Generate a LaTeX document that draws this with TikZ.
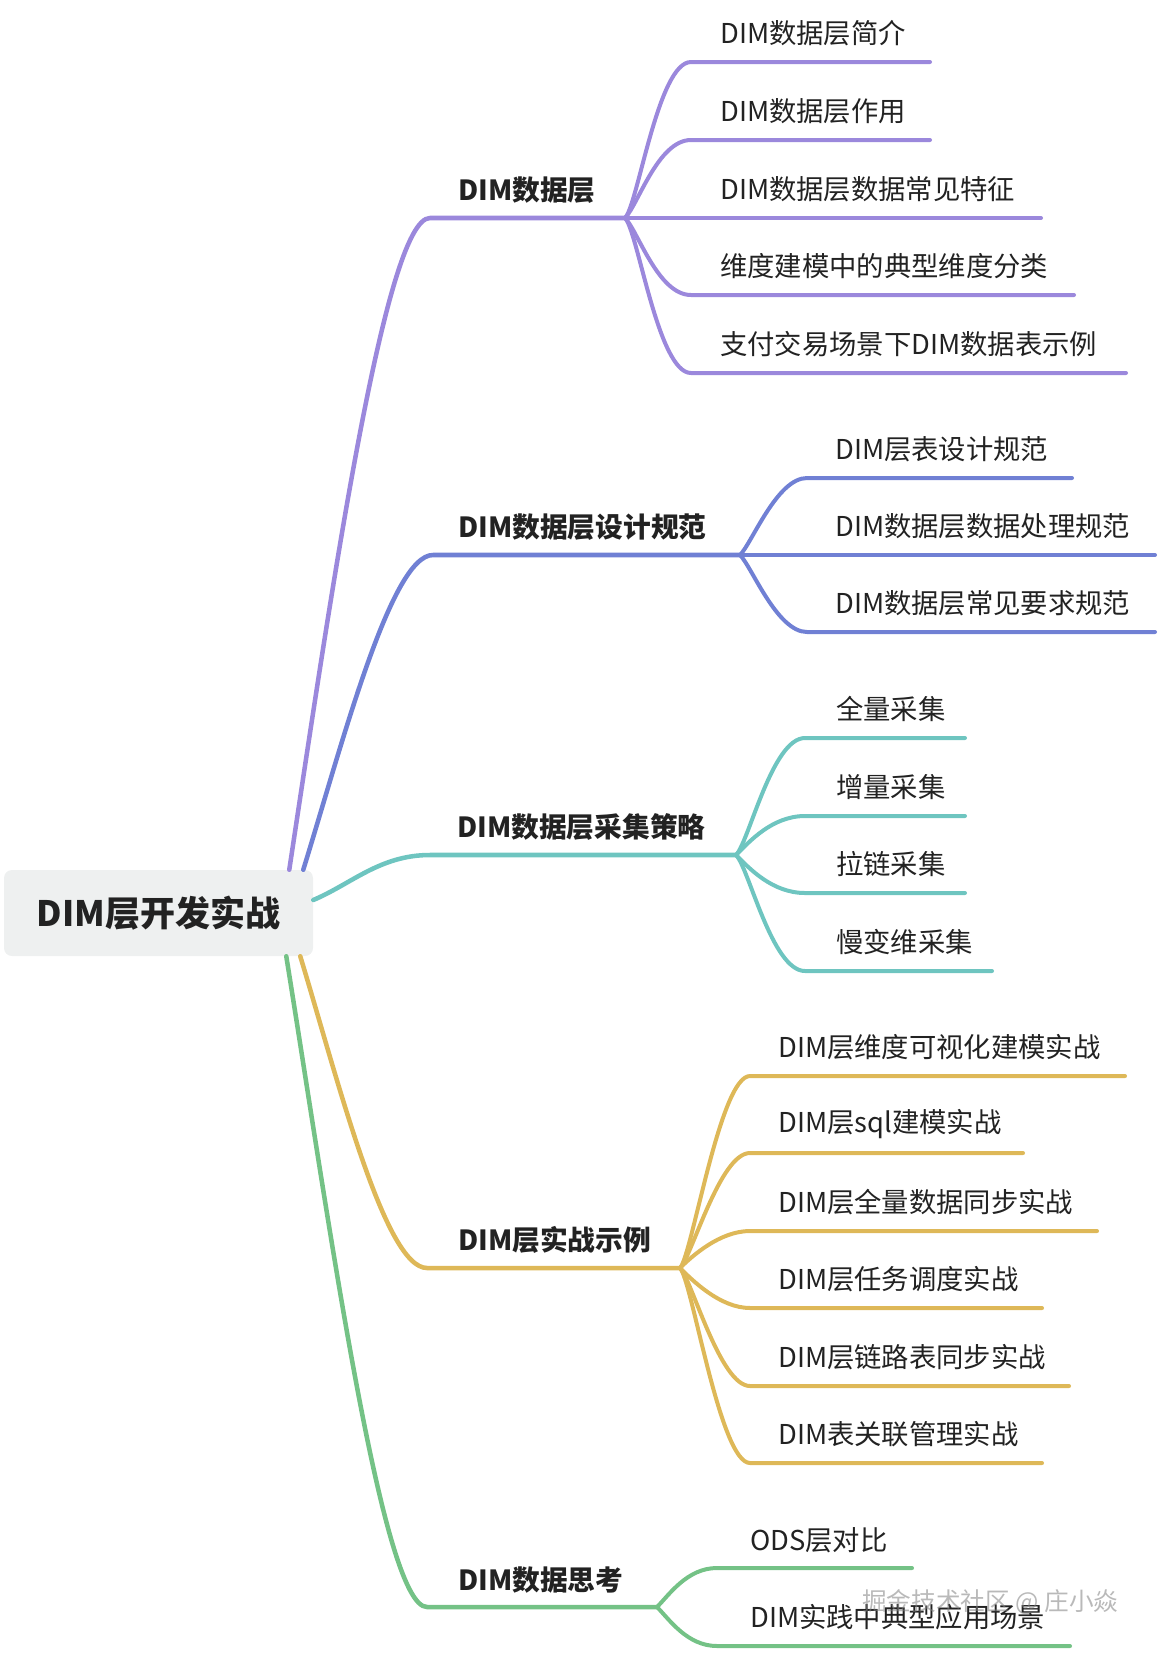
\documentclass[tikz,border=0pt]{standalone}
\usepackage{fontspec}
\setmainfont{Noto Sans CJK SC}
\usetikzlibrary{calc}
\definecolor{ink}{RGB}{34,34,34}
\definecolor{rootfill}{RGB}{238,240,240}
\definecolor{cPur}{RGB}{155,136,220}
\definecolor{cBlu}{RGB}{112,128,212}
\definecolor{cTea}{RGB}{110,197,192}
\definecolor{cYel}{RGB}{222,184,88}
\definecolor{cGre}{RGB}{116,194,134}
\begin{document}
\begin{tikzpicture}[x=0.75pt,y=-0.75pt,
  leaftxt/.style={anchor=west, inner sep=0pt, font=\fontsize{20.5}{21}\selectfont, text=ink},
  maintxt/.style={anchor=west, inner sep=0pt, font=\fontsize{20.8}{21}\selectfont\bfseries, text=ink},
  branch/.style={line width=3.4pt, line cap=round, line join=round},
  leaf/.style={line width=3pt, line cap=round, line join=round},
]
\useasboundingbox (0,0) rectangle (1158,1653);

% root
\node[fill=rootfill, rounded corners=6pt, minimum width=231.75pt, minimum height=64.5pt,
      inner sep=0pt, font=\fontsize{26.25}{27}\selectfont\bfseries, text=ink] (root) at (158.5,913) {DIM层开发实战};

% ---------------- purple ----------------
\node[maintxt] (m1) at (458,190) {DIM数据层};
\coordinate (m1c) at (430,218);
\coordinate (m1j) at (625,218);
\draw[branch, cPur] ($(root.north east)+(-24,0)$) .. controls +(41,-270) and +(-45,0) .. (m1c) -- (m1j);

\node[leaftxt] (p1) at (720,33) {DIM数据层简介};
\node[leaftxt] (p2) at (720,111) {DIM数据层作用};
\node[leaftxt] (p3) at (720,189) {DIM数据层数据常见特征};
\node[leaftxt] (p4) at (720,266) {维度建模中的典型维度分类};
\node[leaftxt] (p5) at (720,344) {支付交易场景下DIM数据表示例};
\coordinate (p1c) at (691,62);  \coordinate (p1e) at (930,62);
\coordinate (p2c) at (691,140); \coordinate (p2e) at (930,140);
\coordinate (p3e) at (1041,218);
\coordinate (p4c) at (691,295); \coordinate (p4e) at (1074,295);
\coordinate (p5c) at (691,373); \coordinate (p5e) at (1126,373);
\draw[leaf, cPur] (m1j) .. controls +(13,-13) and +(-33,0) .. (p1c) -- (p1e);
\draw[leaf, cPur] (m1j) .. controls +(13,-13) and +(-33,0) .. (p2c) -- (p2e);
\draw[leaf, cPur] (m1j) -- (p3e);
\draw[leaf, cPur] (m1j) .. controls +(13,13) and +(-33,0) .. (p4c) -- (p4e);
\draw[leaf, cPur] (m1j) .. controls +(13,13) and +(-33,0) .. (p5c) -- (p5e);

% ---------------- blue ----------------
\node[maintxt] (m2) at (458,527) {DIM数据层设计规范};
\coordinate (m2c) at (433,555);
\coordinate (m2j) at (740,555);
\draw[branch, cBlu] ($(root.north east)+(-10,0)$) .. controls +(39,-126) and +(-42,0) .. (m2c) -- (m2j);

\node[leaftxt] (b1) at (835,449) {DIM层表设计规范};
\node[leaftxt] (b2) at (835,526) {DIM数据层数据处理规范};
\node[leaftxt] (b3) at (835,603) {DIM数据层常见要求规范};
\coordinate (b1c) at (807,478); \coordinate (b1e) at (1072,478);
\coordinate (b2e) at (1155,555);
\coordinate (b3c) at (807,632); \coordinate (b3e) at (1155,632);
\draw[leaf, cBlu] (m2j) .. controls +(12,-12) and +(-30,0) .. (b1c) -- (b1e);
\draw[leaf, cBlu] (m2j) -- (b2e);
\draw[leaf, cBlu] (m2j) .. controls +(12,12) and +(-30,0) .. (b3c) -- (b3e);

% ---------------- teal ----------------
\node[maintxt] (m3) at (457,827) {DIM数据层采集策略};
\coordinate (m3c) at (430,855);
\coordinate (m3j) at (736,855);
\draw[branch, cTea] ($(root.east)+(0,-13)$) .. controls +(38,-16) and +(-50,0) .. (m3c) -- (m3j);

\node[leaftxt] (t1) at (836,709) {全量采集};
\node[leaftxt] (t2) at (836,787) {增量采集};
\node[leaftxt] (t3) at (836,864) {拉链采集};
\node[leaftxt] (t4) at (836,942) {慢变维采集};
\coordinate (t1c) at (805,738); \coordinate (t1e) at (965,738);
\coordinate (t2c) at (805,816); \coordinate (t2e) at (965,816);
\coordinate (t3c) at (805,893); \coordinate (t3e) at (965,893);
\coordinate (t4c) at (805,971); \coordinate (t4e) at (992,971);
\draw[leaf, cTea] (m3j) .. controls +(13,-13) and +(-33,0) .. (t1c) -- (t1e);
\draw[leaf, cTea] (m3j) .. controls +(13,-13) and +(-33,0) .. (t2c) -- (t2e);
\draw[leaf, cTea] (m3j) .. controls +(13,13) and +(-33,0) .. (t3c) -- (t3e);
\draw[leaf, cTea] (m3j) .. controls +(13,13) and +(-33,0) .. (t4c) -- (t4e);

% ---------------- yellow ----------------
\node[maintxt] (m4) at (458,1240) {DIM层实战示例};
\coordinate (m4c) at (427,1268);
\coordinate (m4j) at (680,1268);
\draw[branch, cYel] ($(root.south east)+(-13,0)$) .. controls +(38,125) and +(-42,0) .. (m4c) -- (m4j);

\node[leaftxt] (y1) at (778,1047) {DIM层维度可视化建模实战};
\node[leaftxt] (y2) at (778,1124) {DIM层sql建模实战};
\node[leaftxt] (y3) at (778,1202) {DIM层全量数据同步实战};
\node[leaftxt] (y4) at (778,1279) {DIM层任务调度实战};
\node[leaftxt] (y5) at (778,1357) {DIM层链路表同步实战};
\node[leaftxt] (y6) at (778,1434) {DIM表关联管理实战};
\coordinate (y1c) at (750,1076); \coordinate (y1e) at (1125,1076);
\coordinate (y2c) at (750,1153); \coordinate (y2e) at (1023,1153);
\coordinate (y3c) at (750,1231); \coordinate (y3e) at (1097,1231);
\coordinate (y4c) at (750,1308); \coordinate (y4e) at (1042,1308);
\coordinate (y5c) at (750,1386); \coordinate (y5e) at (1069,1386);
\coordinate (y6c) at (750,1463); \coordinate (y6e) at (1042,1463);
\draw[leaf, cYel] (m4j) .. controls +(12,-12) and +(-30,0) .. (y1c) -- (y1e);
\draw[leaf, cYel] (m4j) .. controls +(12,-12) and +(-30,0) .. (y2c) -- (y2e);
\draw[leaf, cYel] (m4j) .. controls +(12,-12) and +(-30,0) .. (y3c) -- (y3e);
\draw[leaf, cYel] (m4j) .. controls +(12,12) and +(-30,0) .. (y4c) -- (y4e);
\draw[leaf, cYel] (m4j) .. controls +(12,12) and +(-30,0) .. (y5c) -- (y5e);
\draw[leaf, cYel] (m4j) .. controls +(12,12) and +(-30,0) .. (y6c) -- (y6e);

% ---------------- green ----------------
\node[maintxt] (m5) at (458,1580) {DIM数据思考};
\coordinate (m5c) at (427,1607);
\coordinate (m5j) at (657,1607);
\draw[branch, cGre] ($(root.south east)+(-27,0)$) .. controls +(42,260) and +(-45,0) .. (m5c) -- (m5j);

\node[leaftxt] (g1) at (750,1540) {ODS层对比};
\node[leaftxt] (g2) at (750,1617) {DIM实践中典型应用场景};
\coordinate (g1c) at (717,1568); \coordinate (g1e) at (912,1568);
\coordinate (g2c) at (717,1646); \coordinate (g2e) at (1070,1646);
\draw[leaf, cGre] (m5j) .. controls +(12,-12) and +(-30,0) .. (g1c) -- (g1e);
\draw[leaf, cGre] (m5j) .. controls +(12,12) and +(-30,0) .. (g2c) -- (g2e);

% watermark
\node[anchor=west, inner sep=0pt, font=\fontsize{18.5}{19}\selectfont, text=gray, opacity=0.55] (wm) at (862,1602) {掘金技术社区 @ 庄小焱};
\end{tikzpicture}
\end{document}
